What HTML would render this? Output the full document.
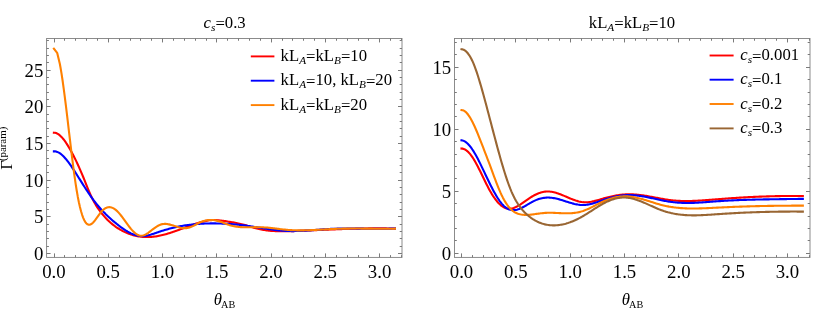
<!DOCTYPE html>
<html><head><meta charset="utf-8"><title>plot</title>
<style>
html,body{margin:0;padding:0;background:#fff;}
svg{display:block;font-family:"Liberation Serif",serif;will-change:transform;}
text{fill:#000;}
.tk{font-size:18px;}
.lb{font-size:16px;}
.i{font-style:italic;}
.sub{font-size:10.8px;}
.sup{font-size:10.4px;}
.xsub{font-size:9.8px;}
.c{fill:none;stroke-width:2.1;stroke-linecap:square;stroke-linejoin:round;}
</style></head><body>
<svg width="830" height="323" viewBox="0 0 830 323">
<rect width="830" height="323" fill="#fff"/>

<clipPath id="cpL"><rect x="46.60" y="38.45" width="355.40" height="218.95"/></clipPath>
<g clip-path="url(#cpL)">
<path class="c" stroke="#ff0000" d="M53.90 132.69L54.99 132.79L56.07 133.08L57.16 133.54L58.24 134.17L59.33 134.95L60.41 135.89L61.50 136.96L62.58 138.16L63.67 139.48L64.75 140.92L65.84 142.47L66.93 144.11L68.01 145.84L69.10 147.65L70.18 149.53L71.27 151.48L72.35 153.48L73.44 155.56L74.52 157.69L75.61 159.89L76.70 162.15L77.78 164.47L78.87 166.85L79.95 169.30L81.04 171.81L82.12 174.38L83.21 177.01L84.29 179.70L85.38 182.41L86.47 185.13L87.55 187.82L88.64 190.45L89.72 192.99L90.81 195.41L91.89 197.70L92.98 199.86L94.06 201.89L95.15 203.81L96.23 205.62L97.32 207.33L98.41 208.94L99.49 210.48L100.58 211.93L101.66 213.31L102.75 214.64L103.83 215.90L104.92 217.12L106.00 218.29L107.09 219.41L108.17 220.48L109.26 221.51L110.35 222.49L111.43 223.43L112.52 224.33L113.60 225.19L114.69 226.01L115.77 226.80L116.86 227.54L117.94 228.26L119.03 228.93L120.12 229.58L121.20 230.20L122.29 230.79L123.37 231.35L124.46 231.88L125.54 232.38L126.63 232.86L127.71 233.31L128.80 233.73L129.88 234.12L130.97 234.49L132.06 234.83L133.14 235.15L134.23 235.44L135.31 235.71L136.40 235.95L137.48 236.16L138.57 236.36L139.65 236.52L140.74 236.67L141.83 236.79L142.91 236.89L144.00 236.96L145.08 237.02L146.17 237.05L147.25 237.05L148.34 237.04L149.42 237.01L150.51 236.95L151.59 236.87L152.68 236.78L153.77 236.66L154.85 236.52L155.94 236.37L157.02 236.19L158.11 236.00L159.19 235.79L160.28 235.56L161.36 235.32L162.45 235.06L163.54 234.79L164.62 234.51L165.71 234.21L166.79 233.90L167.88 233.58L168.96 233.25L170.05 232.91L171.13 232.56L172.22 232.20L173.31 231.84L174.39 231.46L175.48 231.08L176.56 230.70L177.65 230.31L178.73 229.91L179.82 229.51L180.90 229.11L181.99 228.71L183.07 228.31L184.16 227.90L185.25 227.50L186.33 227.09L187.42 226.69L188.50 226.29L189.59 225.89L190.67 225.50L191.76 225.11L192.84 224.73L193.93 224.35L195.02 223.98L196.10 223.62L197.19 223.26L198.27 222.91L199.36 222.58L200.44 222.25L201.53 221.94L202.61 221.64L203.70 221.37L204.78 221.11L205.87 220.88L206.96 220.67L208.04 220.48L209.13 220.33L210.21 220.21L211.30 220.12L212.38 220.06L213.47 220.03L214.55 220.04L215.64 220.07L216.72 220.13L217.81 220.20L218.90 220.30L219.98 220.42L221.07 220.55L222.15 220.69L223.24 220.84L224.32 221.00L225.41 221.16L226.49 221.33L227.58 221.50L228.67 221.67L229.75 221.85L230.84 222.03L231.92 222.21L233.01 222.40L234.09 222.59L235.18 222.79L236.26 223.00L237.35 223.22L238.44 223.45L239.52 223.68L240.61 223.93L241.69 224.19L242.78 224.46L243.86 224.75L244.95 225.05L246.03 225.36L247.12 225.68L248.20 226.00L249.29 226.34L250.38 226.67L251.46 227.00L252.55 227.32L253.63 227.64L254.72 227.95L255.80 228.24L256.89 228.52L257.97 228.79L259.06 229.03L260.14 229.27L261.23 229.48L262.32 229.68L263.40 229.87L264.49 230.05L265.57 230.21L266.66 230.36L267.74 230.49L268.83 230.62L269.91 230.73L271.00 230.83L272.09 230.92L273.17 231.00L274.26 231.07L275.34 231.13L276.43 231.18L277.51 231.22L278.60 231.25L279.68 231.28L280.77 231.30L281.86 231.31L282.94 231.31L284.03 231.31L285.11 231.30L286.20 231.29L287.28 231.27L288.37 231.25L289.45 231.22L290.54 231.19L291.62 231.16L292.71 231.12L293.80 231.09L294.88 231.04L295.97 231.00L297.05 230.96L298.14 230.91L299.22 230.87L300.31 230.82L301.39 230.78L302.48 230.73L303.56 230.68L304.65 230.64L305.74 230.59L306.82 230.54L307.91 230.49L308.99 230.45L310.08 230.40L311.16 230.35L312.25 230.30L313.33 230.26L314.42 230.21L315.51 230.16L316.59 230.11L317.68 230.06L318.76 230.02L319.85 229.97L320.93 229.92L322.02 229.88L323.10 229.83L324.19 229.78L325.27 229.74L326.36 229.69L327.45 229.64L328.53 229.60L329.62 229.55L330.70 229.51L331.79 229.46L332.87 229.42L333.96 229.38L335.04 229.33L336.13 229.29L337.22 229.25L338.30 229.21L339.39 229.17L340.47 229.13L341.56 229.09L342.64 229.05L343.73 229.01L344.81 228.98L345.90 228.94L346.99 228.91L348.07 228.87L349.16 228.84L350.24 228.81L351.33 228.77L352.41 228.74L353.50 228.71L354.58 228.68L355.67 228.66L356.75 228.63L357.84 228.60L358.93 228.58L360.01 228.56L361.10 228.54L362.18 228.51L363.27 228.50L364.35 228.48L365.44 228.46L366.52 228.44L367.61 228.43L368.69 228.42L369.78 228.41L370.87 228.40L371.95 228.39L373.04 228.38L374.12 228.37L375.21 228.37L376.29 228.37L377.38 228.37L378.46 228.37L379.55 228.37L380.64 228.37L381.72 228.38L382.81 228.39L383.89 228.40L384.98 228.41L386.06 228.42L387.15 228.44L388.23 228.45L389.32 228.47L390.40 228.49L391.49 228.51L392.58 228.54L393.66 228.56L394.75 228.59L394.92 228.60"/>
<path class="c" stroke="#0000ff" d="M53.90 151.40L54.99 151.41L56.07 151.58L57.16 151.89L58.24 152.36L59.33 152.95L60.41 153.68L61.50 154.53L62.58 155.48L63.67 156.54L64.75 157.70L65.84 158.95L66.93 160.27L68.01 161.67L69.10 163.13L70.18 164.65L71.27 166.22L72.35 167.83L73.44 169.46L74.52 171.13L75.61 172.81L76.70 174.51L77.78 176.22L78.87 177.94L79.95 179.66L81.04 181.39L82.12 183.11L83.21 184.82L84.29 186.53L85.38 188.22L86.47 189.89L87.55 191.54L88.64 193.17L89.72 194.77L90.81 196.34L91.89 197.87L92.98 199.36L94.06 200.81L95.15 202.23L96.23 203.60L97.32 204.94L98.41 206.24L99.49 207.51L100.58 208.74L101.66 209.94L102.75 211.11L103.83 212.25L104.92 213.36L106.00 214.45L107.09 215.50L108.17 216.54L109.26 217.54L110.35 218.53L111.43 219.49L112.52 220.44L113.60 221.36L114.69 222.27L115.77 223.16L116.86 224.03L117.94 224.89L119.03 225.73L120.12 226.55L121.20 227.36L122.29 228.14L123.37 228.89L124.46 229.62L125.54 230.32L126.63 230.99L127.71 231.63L128.80 232.24L129.88 232.81L130.97 233.34L132.06 233.83L133.14 234.28L134.23 234.68L135.31 235.04L136.40 235.35L137.48 235.61L138.57 235.82L139.65 235.97L140.74 236.07L141.83 236.11L142.91 236.10L144.00 236.02L145.08 235.90L146.17 235.73L147.25 235.52L148.34 235.27L149.42 234.99L150.51 234.69L151.59 234.36L152.68 234.01L153.77 233.65L154.85 233.28L155.94 232.90L157.02 232.52L158.11 232.15L159.19 231.79L160.28 231.43L161.36 231.08L162.45 230.74L163.54 230.40L164.62 230.08L165.71 229.76L166.79 229.44L167.88 229.14L168.96 228.84L170.05 228.55L171.13 228.27L172.22 228.00L173.31 227.74L174.39 227.49L175.48 227.24L176.56 227.00L177.65 226.77L178.73 226.56L179.82 226.34L180.90 226.14L181.99 225.95L183.07 225.76L184.16 225.58L185.25 225.41L186.33 225.25L187.42 225.09L188.50 224.94L189.59 224.80L190.67 224.67L191.76 224.54L192.84 224.43L193.93 224.31L195.02 224.21L196.10 224.11L197.19 224.02L198.27 223.94L199.36 223.86L200.44 223.79L201.53 223.72L202.61 223.67L203.70 223.61L204.78 223.57L205.87 223.53L206.96 223.49L208.04 223.46L209.13 223.44L210.21 223.42L211.30 223.41L212.38 223.41L213.47 223.40L214.55 223.41L215.64 223.42L216.72 223.43L217.81 223.45L218.90 223.47L219.98 223.50L221.07 223.54L222.15 223.58L223.24 223.62L224.32 223.67L225.41 223.72L226.49 223.78L227.58 223.85L228.67 223.92L229.75 223.99L230.84 224.07L231.92 224.15L233.01 224.24L234.09 224.33L235.18 224.43L236.26 224.53L237.35 224.64L238.44 224.75L239.52 224.86L240.61 224.98L241.69 225.11L242.78 225.24L243.86 225.37L244.95 225.51L246.03 225.66L247.12 225.81L248.20 225.96L249.29 226.11L250.38 226.27L251.46 226.44L252.55 226.60L253.63 226.77L254.72 226.94L255.80 227.11L256.89 227.28L257.97 227.45L259.06 227.62L260.14 227.80L261.23 227.97L262.32 228.14L263.40 228.31L264.49 228.48L265.57 228.65L266.66 228.81L267.74 228.97L268.83 229.13L269.91 229.29L271.00 229.44L272.09 229.58L273.17 229.73L274.26 229.86L275.34 229.99L276.43 230.12L277.51 230.24L278.60 230.35L279.68 230.46L280.77 230.56L281.86 230.65L282.94 230.73L284.03 230.81L285.11 230.87L286.20 230.93L287.28 230.98L288.37 231.01L289.45 231.04L290.54 231.06L291.62 231.08L292.71 231.08L293.80 231.08L294.88 231.07L295.97 231.05L297.05 231.03L298.14 231.00L299.22 230.96L300.31 230.92L301.39 230.88L302.48 230.83L303.56 230.77L304.65 230.71L305.74 230.65L306.82 230.58L307.91 230.51L308.99 230.44L310.08 230.37L311.16 230.29L312.25 230.21L313.33 230.13L314.42 230.05L315.51 229.97L316.59 229.88L317.68 229.80L318.76 229.72L319.85 229.64L320.93 229.56L322.02 229.48L323.10 229.40L324.19 229.32L325.27 229.25L326.36 229.18L327.45 229.11L328.53 229.04L329.62 228.98L330.70 228.92L331.79 228.87L332.87 228.82L333.96 228.77L335.04 228.73L336.13 228.70L337.22 228.67L338.30 228.64L339.39 228.61L340.47 228.59L341.56 228.57L342.64 228.56L343.73 228.55L344.81 228.54L345.90 228.53L346.99 228.53L348.07 228.53L349.16 228.53L350.24 228.53L351.33 228.54L352.41 228.54L353.50 228.55L354.58 228.56L355.67 228.57L356.75 228.59L357.84 228.60L358.93 228.61L360.01 228.63L361.10 228.64L362.18 228.66L363.27 228.67L364.35 228.69L365.44 228.71L366.52 228.72L367.61 228.73L368.69 228.75L369.78 228.76L370.87 228.77L371.95 228.78L373.04 228.79L374.12 228.80L375.21 228.81L376.29 228.81L377.38 228.82L378.46 228.82L379.55 228.81L380.64 228.81L381.72 228.80L382.81 228.79L383.89 228.78L384.98 228.77L386.06 228.75L387.15 228.72L388.23 228.70L389.32 228.67L390.40 228.64L391.49 228.60L392.58 228.56L393.66 228.51L394.75 228.46L394.92 228.45"/>
<path class="c" stroke="#ff8000" d="M53.90 48.74L57.16 52.85L59.87 64.01L60.41 66.94L61.50 73.38L62.58 80.53L63.67 88.29L64.75 96.54L65.84 105.20L66.93 114.16L68.01 123.30L69.10 132.53L70.18 141.73L71.27 150.80L72.35 159.64L73.44 168.14L74.52 176.19L75.61 183.69L76.70 190.54L77.78 196.69L78.87 202.18L79.95 207.02L81.04 211.22L82.12 214.82L83.21 217.82L84.29 220.26L85.38 222.14L86.47 223.50L87.55 224.35L88.64 224.74L89.72 224.71L90.81 224.33L91.89 223.63L92.98 222.66L94.06 221.48L95.15 220.14L96.23 218.67L97.32 217.15L98.41 215.60L99.49 214.08L100.58 212.65L101.66 211.34L102.75 210.21L103.83 209.27L104.92 208.50L106.00 207.91L107.09 207.50L108.17 207.25L109.26 207.17L110.35 207.25L111.43 207.48L112.52 207.87L113.60 208.40L114.69 209.08L115.77 209.89L116.86 210.84L117.94 211.91L119.03 213.10L120.12 214.38L121.20 215.74L122.29 217.16L123.37 218.62L124.46 220.12L125.54 221.63L126.63 223.15L127.71 224.64L128.80 226.10L129.88 227.51L130.97 228.85L132.06 230.11L133.14 231.28L134.23 232.33L135.31 233.25L136.40 234.05L137.48 234.70L138.57 235.20L139.65 235.55L140.74 235.73L141.83 235.74L142.91 235.57L144.00 235.24L145.08 234.77L146.17 234.19L147.25 233.51L148.34 232.76L149.42 231.96L150.51 231.13L151.59 230.29L152.68 229.46L153.77 228.63L154.85 227.84L155.94 227.09L157.02 226.39L158.11 225.75L159.19 225.19L160.28 224.73L161.36 224.36L162.45 224.10L163.54 223.95L164.62 223.89L165.71 223.91L166.79 224.00L167.88 224.16L168.96 224.37L170.05 224.62L171.13 224.91L172.22 225.23L173.31 225.57L174.39 225.91L175.48 226.27L176.56 226.61L177.65 226.95L178.73 227.25L179.82 227.53L180.90 227.77L181.99 227.96L183.07 228.09L184.16 228.16L185.25 228.16L186.33 228.09L187.42 227.95L188.50 227.73L189.59 227.44L190.67 227.08L191.76 226.63L192.84 226.13L193.93 225.57L195.02 224.98L196.10 224.39L197.19 223.80L198.27 223.24L199.36 222.72L200.44 222.24L201.53 221.81L202.61 221.42L203.70 221.07L204.78 220.77L205.87 220.52L206.96 220.31L208.04 220.15L209.13 220.03L210.21 219.97L211.30 219.95L212.38 219.99L213.47 220.07L214.55 220.21L215.64 220.39L216.72 220.63L217.81 220.92L218.90 221.24L219.98 221.60L221.07 221.99L222.15 222.39L223.24 222.80L224.32 223.22L225.41 223.64L226.49 224.05L227.58 224.44L228.67 224.81L229.75 225.15L230.84 225.47L231.92 225.75L233.01 226.01L234.09 226.24L235.18 226.45L236.26 226.63L237.35 226.78L238.44 226.91L239.52 227.02L240.61 227.11L241.69 227.17L242.78 227.22L243.86 227.24L244.95 227.26L246.03 227.26L247.12 227.26L248.20 227.25L249.29 227.23L250.38 227.22L251.46 227.20L252.55 227.19L253.63 227.18L254.72 227.17L255.80 227.17L256.89 227.18L257.97 227.20L259.06 227.22L260.14 227.24L261.23 227.28L262.32 227.32L263.40 227.37L264.49 227.43L265.57 227.50L266.66 227.57L267.74 227.66L268.83 227.76L269.91 227.86L271.00 227.98L272.09 228.10L273.17 228.22L274.26 228.35L275.34 228.49L276.43 228.63L277.51 228.76L278.60 228.90L279.68 229.04L280.77 229.17L281.86 229.30L282.94 229.43L284.03 229.55L285.11 229.66L286.20 229.76L287.28 229.86L288.37 229.94L289.45 230.02L290.54 230.09L291.62 230.14L292.71 230.20L293.80 230.24L294.88 230.28L295.97 230.31L297.05 230.33L298.14 230.34L299.22 230.35L300.31 230.36L301.39 230.35L302.48 230.34L303.56 230.33L304.65 230.31L305.74 230.29L306.82 230.26L307.91 230.23L308.99 230.20L310.08 230.16L311.16 230.11L312.25 230.07L313.33 230.02L314.42 229.97L315.51 229.92L316.59 229.86L317.68 229.81L318.76 229.75L319.85 229.69L320.93 229.63L322.02 229.57L323.10 229.51L324.19 229.45L325.27 229.39L326.36 229.33L327.45 229.27L328.53 229.21L329.62 229.16L330.70 229.10L331.79 229.05L332.87 229.00L333.96 228.95L335.04 228.90L336.13 228.86L337.22 228.82L338.30 228.79L339.39 228.75L340.47 228.72L341.56 228.69L342.64 228.67L343.73 228.65L344.81 228.63L345.90 228.61L346.99 228.60L348.07 228.59L349.16 228.58L350.24 228.57L351.33 228.56L352.41 228.56L353.50 228.56L354.58 228.55L355.67 228.56L356.75 228.56L357.84 228.56L358.93 228.57L360.01 228.57L361.10 228.58L362.18 228.58L363.27 228.59L364.35 228.60L365.44 228.61L366.52 228.62L367.61 228.63L368.69 228.64L369.78 228.65L370.87 228.66L371.95 228.67L373.04 228.68L374.12 228.69L375.21 228.70L376.29 228.71L377.38 228.72L378.46 228.72L379.55 228.73L380.64 228.74L381.72 228.74L382.81 228.74L383.89 228.75L384.98 228.75L386.06 228.75L387.15 228.74L388.23 228.74L389.32 228.73L390.40 228.73L391.49 228.72L392.58 228.70L393.66 228.69L394.75 228.67L394.92 228.67"/>
</g>
<rect x="46.60" y="38.45" width="355.40" height="218.95" fill="none" stroke="#7f7f7f" stroke-width="0.9"/>
<path d="M54.50 257.40v-4.00M54.50 38.45v4.00M64.50 257.40v-2.30M64.50 38.45v2.30M75.50 257.40v-2.30M75.50 38.45v2.30M86.50 257.40v-2.30M86.50 38.45v2.30M97.50 257.40v-2.30M97.50 38.45v2.30M108.50 257.40v-4.00M108.50 38.45v4.00M119.50 257.40v-2.30M119.50 38.45v2.30M130.50 257.40v-2.30M130.50 38.45v2.30M140.50 257.40v-2.30M140.50 38.45v2.30M151.50 257.40v-2.30M151.50 38.45v2.30M162.50 257.40v-4.00M162.50 38.45v4.00M173.50 257.40v-2.30M173.50 38.45v2.30M184.50 257.40v-2.30M184.50 38.45v2.30M195.50 257.40v-2.30M195.50 38.45v2.30M206.50 257.40v-2.30M206.50 38.45v2.30M216.50 257.40v-4.00M216.50 38.45v4.00M227.50 257.40v-2.30M227.50 38.45v2.30M238.50 257.40v-2.30M238.50 38.45v2.30M249.50 257.40v-2.30M249.50 38.45v2.30M260.50 257.40v-2.30M260.50 38.45v2.30M271.50 257.40v-4.00M271.50 38.45v4.00M282.50 257.40v-2.30M282.50 38.45v2.30M292.50 257.40v-2.30M292.50 38.45v2.30M303.50 257.40v-2.30M303.50 38.45v2.30M314.50 257.40v-2.30M314.50 38.45v2.30M325.50 257.40v-4.00M325.50 38.45v4.00M336.50 257.40v-2.30M336.50 38.45v2.30M347.50 257.40v-2.30M347.50 38.45v2.30M358.50 257.40v-2.30M358.50 38.45v2.30M368.50 257.40v-2.30M368.50 38.45v2.30M379.50 257.40v-4.00M379.50 38.45v4.00M390.50 257.40v-2.30M390.50 38.45v2.30M401.50 257.40v-2.30M401.50 38.45v2.30M46.60 253.50h4.00M402.00 253.50h-4.00M46.60 246.50h2.30M402.00 246.50h-2.30M46.60 238.50h2.30M402.00 238.50h-2.30M46.60 231.50h2.30M402.00 231.50h-2.30M46.60 224.50h2.30M402.00 224.50h-2.30M46.60 216.50h4.00M402.00 216.50h-4.00M46.60 209.50h2.30M402.00 209.50h-2.30M46.60 202.50h2.30M402.00 202.50h-2.30M46.60 194.50h2.30M402.00 194.50h-2.30M46.60 187.50h2.30M402.00 187.50h-2.30M46.60 180.50h4.00M402.00 180.50h-4.00M46.60 172.50h2.30M402.00 172.50h-2.30M46.60 165.50h2.30M402.00 165.50h-2.30M46.60 158.50h2.30M402.00 158.50h-2.30M46.60 150.50h2.30M402.00 150.50h-2.30M46.60 143.50h4.00M402.00 143.50h-4.00M46.60 136.50h2.30M402.00 136.50h-2.30M46.60 128.50h2.30M402.00 128.50h-2.30M46.60 121.50h2.30M402.00 121.50h-2.30M46.60 114.50h2.30M402.00 114.50h-2.30M46.60 106.50h4.00M402.00 106.50h-4.00M46.60 99.50h2.30M402.00 99.50h-2.30M46.60 92.50h2.30M402.00 92.50h-2.30M46.60 84.50h2.30M402.00 84.50h-2.30M46.60 77.50h2.30M402.00 77.50h-2.30M46.60 70.50h4.00M402.00 70.50h-4.00M46.60 62.50h2.30M402.00 62.50h-2.30M46.60 55.50h2.30M402.00 55.50h-2.30M46.60 48.50h2.30M402.00 48.50h-2.30M46.60 40.50h2.30M402.00 40.50h-2.30" fill="none" stroke="#7a7a7a" stroke-width="1.0"/>
<text class="tk" text-anchor="middle" transform="translate(53.90 278.00)  scale(1.044 1)"><tspan>0.0</tspan></text>
<text class="tk" text-anchor="middle" transform="translate(108.17 278.00)  scale(1.044 1)"><tspan>0.5</tspan></text>
<text class="tk" text-anchor="middle" transform="translate(162.45 278.00)  scale(1.044 1)"><tspan>1.0</tspan></text>
<text class="tk" text-anchor="middle" transform="translate(216.72 278.00)  scale(1.044 1)"><tspan>1.5</tspan></text>
<text class="tk" text-anchor="middle" transform="translate(271.00 278.00)  scale(1.044 1)"><tspan>2.0</tspan></text>
<text class="tk" text-anchor="middle" transform="translate(325.27 278.00)  scale(1.044 1)"><tspan>2.5</tspan></text>
<text class="tk" text-anchor="middle" transform="translate(379.55 278.00)  scale(1.044 1)"><tspan>3.0</tspan></text>
<text class="tk" text-anchor="end" transform="translate(43.30 260.10)  scale(1.044 1)"><tspan>0</tspan></text>
<text class="tk" text-anchor="end" transform="translate(43.30 223.41)  scale(1.044 1)"><tspan>5</tspan></text>
<text class="tk" text-anchor="end" transform="translate(43.30 186.72)  scale(1.044 1)"><tspan>10</tspan></text>
<text class="tk" text-anchor="end" transform="translate(43.30 150.03)  scale(1.044 1)"><tspan>15</tspan></text>
<text class="tk" text-anchor="end" transform="translate(43.30 113.34)  scale(1.044 1)"><tspan>20</tspan></text>
<text class="tk" text-anchor="end" transform="translate(43.30 76.65)  scale(1.044 1)"><tspan>25</tspan></text>
<text class="lb" text-anchor="start" transform="translate(213.80 304.50)  scale(1.044 1)"><tspan class="i">θ</tspan><tspan class="xsub" dy="3.30"><tspan dx="-0.9">AB</tspan></tspan></text>
<clipPath id="cpR"><rect x="454.50" y="38.45" width="355.50" height="218.95"/></clipPath>
<g clip-path="url(#cpR)">
<path class="c" stroke="#ff0000" d="M461.50 148.50L462.59 148.62L463.67 148.92L464.76 149.39L465.85 150.03L466.93 150.84L468.02 151.80L469.11 152.92L470.19 154.18L471.28 155.58L472.37 157.12L473.45 158.79L474.54 160.58L475.62 162.47L476.71 164.46L477.80 166.53L478.88 168.66L479.97 170.84L481.06 173.06L482.14 175.30L483.23 177.55L484.32 179.79L485.40 182.01L486.49 184.20L487.58 186.33L488.66 188.40L489.75 190.40L490.84 192.30L491.92 194.12L493.01 195.85L494.10 197.47L495.18 199.00L496.27 200.43L497.35 201.76L498.44 202.98L499.53 204.08L500.61 205.08L501.70 205.96L502.79 206.72L503.87 207.37L504.96 207.89L506.05 208.28L507.13 208.55L508.22 208.70L509.31 208.73L510.39 208.66L511.48 208.50L512.57 208.24L513.65 207.91L514.74 207.50L515.83 207.02L516.91 206.49L518.00 205.90L519.08 205.27L520.17 204.60L521.26 203.89L522.34 203.16L523.43 202.41L524.52 201.65L525.60 200.88L526.69 200.11L527.78 199.35L528.86 198.60L529.95 197.87L531.04 197.16L532.12 196.49L533.21 195.85L534.30 195.26L535.38 194.70L536.47 194.18L537.56 193.70L538.64 193.27L539.73 192.88L540.81 192.54L541.90 192.24L542.99 191.99L544.07 191.79L545.16 191.64L546.25 191.54L547.33 191.49L548.42 191.50L549.51 191.56L550.59 191.67L551.68 191.82L552.77 192.02L553.85 192.25L554.94 192.52L556.03 192.83L557.11 193.16L558.20 193.53L559.28 193.91L560.37 194.32L561.46 194.75L562.54 195.19L563.63 195.64L564.72 196.10L565.80 196.56L566.89 197.03L567.98 197.50L569.06 197.96L570.15 198.41L571.24 198.86L572.32 199.29L573.41 199.70L574.50 200.10L575.58 200.47L576.67 200.81L577.76 201.13L578.84 201.42L579.93 201.67L581.01 201.88L582.10 202.05L583.19 202.17L584.27 202.25L585.36 202.28L586.45 202.27L587.53 202.21L588.62 202.11L589.71 201.97L590.79 201.81L591.88 201.61L592.97 201.38L594.05 201.14L595.14 200.87L596.23 200.59L597.31 200.29L598.40 199.98L599.49 199.66L600.57 199.34L601.66 199.02L602.75 198.70L603.83 198.38L604.92 198.07L606.00 197.78L607.09 197.49L608.18 197.20L609.26 196.93L610.35 196.67L611.44 196.42L612.52 196.19L613.61 195.96L614.70 195.75L615.78 195.54L616.87 195.36L617.96 195.18L619.04 195.02L620.13 194.87L621.22 194.74L622.30 194.62L623.39 194.52L624.48 194.44L625.56 194.37L626.65 194.32L627.73 194.29L628.82 194.27L629.91 194.27L630.99 194.29L632.08 194.33L633.17 194.38L634.25 194.44L635.34 194.52L636.43 194.61L637.51 194.72L638.60 194.83L639.69 194.96L640.77 195.10L641.86 195.24L642.95 195.40L644.03 195.56L645.12 195.73L646.21 195.91L647.29 196.09L648.38 196.28L649.46 196.48L650.55 196.67L651.64 196.87L652.72 197.08L653.81 197.28L654.90 197.49L655.98 197.69L657.07 197.90L658.16 198.10L659.24 198.30L660.33 198.50L661.42 198.70L662.50 198.89L663.59 199.08L664.68 199.26L665.76 199.43L666.85 199.60L667.94 199.76L669.02 199.92L670.11 200.06L671.19 200.19L672.28 200.32L673.37 200.43L674.45 200.53L675.54 200.62L676.63 200.70L677.71 200.77L678.80 200.84L679.89 200.89L680.97 200.94L682.06 200.97L683.15 201.00L684.23 201.02L685.32 201.03L686.41 201.03L687.49 201.03L688.58 201.02L689.66 201.01L690.75 200.98L691.84 200.95L692.92 200.92L694.01 200.88L695.10 200.84L696.18 200.79L697.27 200.73L698.36 200.67L699.44 200.61L700.53 200.54L701.62 200.47L702.70 200.40L703.79 200.32L704.88 200.24L705.96 200.16L707.05 200.08L708.14 199.99L709.22 199.91L710.31 199.82L711.39 199.73L712.48 199.64L713.57 199.55L714.65 199.46L715.74 199.37L716.83 199.28L717.91 199.19L719.00 199.11L720.09 199.02L721.17 198.93L722.26 198.85L723.35 198.77L724.43 198.68L725.52 198.60L726.61 198.52L727.69 198.44L728.78 198.37L729.87 198.29L730.95 198.22L732.04 198.14L733.12 198.07L734.21 198.00L735.30 197.93L736.38 197.86L737.47 197.79L738.56 197.72L739.64 197.65L740.73 197.59L741.82 197.53L742.90 197.46L743.99 197.40L745.08 197.34L746.16 197.28L747.25 197.23L748.34 197.17L749.42 197.12L750.51 197.06L751.60 197.01L752.68 196.96L753.77 196.91L754.86 196.86L755.94 196.81L757.03 196.76L758.11 196.72L759.20 196.67L760.29 196.63L761.37 196.59L762.46 196.55L763.55 196.51L764.63 196.47L765.72 196.44L766.81 196.40L767.89 196.37L768.98 196.34L770.07 196.30L771.15 196.27L772.24 196.25L773.33 196.22L774.41 196.19L775.50 196.17L776.59 196.14L777.67 196.12L778.76 196.10L779.84 196.08L780.93 196.06L782.02 196.05L783.10 196.03L784.19 196.02L785.28 196.00L786.36 195.99L787.45 195.98L788.54 195.97L789.62 195.97L790.71 195.96L791.80 195.96L792.88 195.95L793.97 195.95L795.06 195.95L796.14 195.95L797.23 195.95L798.32 195.96L799.40 195.96L800.49 195.97L801.57 195.98L802.66 195.99L802.83 195.99"/>
<path class="c" stroke="#0000ff" d="M461.50 140.32L462.59 140.50L463.67 140.87L464.76 141.41L465.85 142.12L466.93 142.99L468.02 144.01L469.11 145.18L470.19 146.49L471.28 147.93L472.37 149.49L473.45 151.17L474.54 152.95L475.62 154.84L476.71 156.80L477.80 158.85L478.88 160.96L479.97 163.13L481.06 165.34L482.14 167.59L483.23 169.86L484.32 172.15L485.40 174.45L486.49 176.74L487.58 179.02L488.66 181.27L489.75 183.49L490.84 185.68L491.92 187.81L493.01 189.89L494.10 191.90L495.18 193.85L496.27 195.72L497.35 197.50L498.44 199.19L499.53 200.77L500.61 202.25L501.70 203.61L502.79 204.85L503.87 205.95L504.96 206.92L506.05 207.75L507.13 208.45L508.22 209.02L509.31 209.47L510.39 209.80L511.48 210.02L512.57 210.14L513.65 210.16L514.74 210.08L515.83 209.92L516.91 209.68L518.00 209.36L519.08 208.98L520.17 208.54L521.26 208.05L522.34 207.52L523.43 206.95L524.52 206.35L525.60 205.73L526.69 205.09L527.78 204.45L528.86 203.81L529.95 203.17L531.04 202.55L532.12 201.95L533.21 201.38L534.30 200.84L535.38 200.35L536.47 199.89L537.56 199.48L538.64 199.10L539.73 198.77L540.81 198.47L541.90 198.22L542.99 198.01L544.07 197.84L545.16 197.71L546.25 197.62L547.33 197.57L548.42 197.56L549.51 197.60L550.59 197.68L551.68 197.79L552.77 197.94L553.85 198.11L554.94 198.32L556.03 198.55L557.11 198.81L558.20 199.09L559.28 199.38L560.37 199.69L561.46 200.02L562.54 200.35L563.63 200.69L564.72 201.03L565.80 201.38L566.89 201.73L567.98 202.07L569.06 202.41L570.15 202.74L571.24 203.05L572.32 203.36L573.41 203.64L574.50 203.91L575.58 204.15L576.67 204.37L577.76 204.57L578.84 204.73L579.93 204.86L581.01 204.95L582.10 205.01L583.19 205.02L584.27 204.99L585.36 204.92L586.45 204.81L587.53 204.65L588.62 204.47L589.71 204.24L590.79 203.99L591.88 203.72L592.97 203.42L594.05 203.10L595.14 202.76L596.23 202.41L597.31 202.05L598.40 201.68L599.49 201.30L600.57 200.92L601.66 200.55L602.75 200.17L603.83 199.81L604.92 199.45L606.00 199.11L607.09 198.77L608.18 198.45L609.26 198.14L610.35 197.84L611.44 197.55L612.52 197.28L613.61 197.02L614.70 196.77L615.78 196.54L616.87 196.32L617.96 196.12L619.04 195.94L620.13 195.77L621.22 195.62L622.30 195.49L623.39 195.38L624.48 195.28L625.56 195.21L626.65 195.15L627.73 195.11L628.82 195.10L629.91 195.10L630.99 195.12L632.08 195.16L633.17 195.22L634.25 195.30L635.34 195.39L636.43 195.49L637.51 195.61L638.60 195.75L639.69 195.89L640.77 196.05L641.86 196.22L642.95 196.40L644.03 196.59L645.12 196.78L646.21 196.99L647.29 197.20L648.38 197.42L649.46 197.64L650.55 197.87L651.64 198.10L652.72 198.33L653.81 198.57L654.90 198.80L655.98 199.04L657.07 199.27L658.16 199.51L659.24 199.74L660.33 199.97L661.42 200.20L662.50 200.42L663.59 200.64L664.68 200.85L665.76 201.05L666.85 201.24L667.94 201.43L669.02 201.61L670.11 201.77L671.19 201.93L672.28 202.07L673.37 202.21L674.45 202.33L675.54 202.43L676.63 202.53L677.71 202.62L678.80 202.69L679.89 202.76L680.97 202.81L682.06 202.86L683.15 202.90L684.23 202.92L685.32 202.94L686.41 202.95L687.49 202.96L688.58 202.95L689.66 202.94L690.75 202.92L691.84 202.90L692.92 202.87L694.01 202.83L695.10 202.79L696.18 202.74L697.27 202.69L698.36 202.63L699.44 202.57L700.53 202.51L701.62 202.44L702.70 202.37L703.79 202.30L704.88 202.22L705.96 202.14L707.05 202.06L708.14 201.98L709.22 201.90L710.31 201.82L711.39 201.73L712.48 201.65L713.57 201.57L714.65 201.48L715.74 201.40L716.83 201.32L717.91 201.24L719.00 201.17L720.09 201.09L721.17 201.02L722.26 200.95L723.35 200.88L724.43 200.82L725.52 200.75L726.61 200.69L727.69 200.63L728.78 200.57L729.87 200.51L730.95 200.46L732.04 200.40L733.12 200.35L734.21 200.30L735.30 200.25L736.38 200.20L737.47 200.16L738.56 200.11L739.64 200.07L740.73 200.03L741.82 199.99L742.90 199.95L743.99 199.91L745.08 199.88L746.16 199.84L747.25 199.81L748.34 199.77L749.42 199.74L750.51 199.71L751.60 199.68L752.68 199.65L753.77 199.63L754.86 199.60L755.94 199.57L757.03 199.55L758.11 199.53L759.20 199.50L760.29 199.48L761.37 199.46L762.46 199.44L763.55 199.42L764.63 199.40L765.72 199.38L766.81 199.36L767.89 199.34L768.98 199.33L770.07 199.31L771.15 199.29L772.24 199.28L773.33 199.26L774.41 199.24L775.50 199.23L776.59 199.21L777.67 199.20L778.76 199.19L779.84 199.17L780.93 199.16L782.02 199.14L783.10 199.13L784.19 199.11L785.28 199.10L786.36 199.09L787.45 199.07L788.54 199.06L789.62 199.04L790.71 199.03L791.80 199.01L792.88 199.00L793.97 198.98L795.06 198.97L796.14 198.95L797.23 198.93L798.32 198.92L799.40 198.90L800.49 198.88L801.57 198.86L802.66 198.84L802.83 198.84"/>
<path class="c" stroke="#ff8000" d="M461.50 110.06L462.59 110.17L463.67 110.55L464.76 111.20L465.85 112.09L466.93 113.21L468.02 114.54L469.11 116.08L470.19 117.80L471.28 119.70L472.37 121.75L473.45 123.95L474.54 126.27L475.62 128.71L476.71 131.25L477.80 133.87L478.88 136.56L479.97 139.30L481.06 142.09L482.14 144.90L483.23 147.72L484.32 150.54L485.40 153.36L486.49 156.18L487.58 159.01L488.66 161.85L489.75 164.72L490.84 167.62L491.92 170.55L493.01 173.53L494.10 176.52L495.18 179.48L496.27 182.39L497.35 185.19L498.44 187.88L499.53 190.45L500.61 192.89L501.70 195.21L502.79 197.40L503.87 199.45L504.96 201.36L506.05 203.13L507.13 204.75L508.22 206.23L509.31 207.56L510.39 208.74L511.48 209.79L512.57 210.72L513.65 211.53L514.74 212.23L515.83 212.82L516.91 213.32L518.00 213.74L519.08 214.07L520.17 214.34L521.26 214.54L522.34 214.68L523.43 214.78L524.52 214.83L525.60 214.86L526.69 214.85L527.78 214.81L528.86 214.76L529.95 214.68L531.04 214.58L532.12 214.46L533.21 214.34L534.30 214.20L535.38 214.06L536.47 213.91L537.56 213.76L538.64 213.61L539.73 213.47L540.81 213.33L541.90 213.20L542.99 213.09L544.07 212.99L545.16 212.91L546.25 212.85L547.33 212.81L548.42 212.78L549.51 212.77L550.59 212.78L551.68 212.79L552.77 212.82L553.85 212.85L554.94 212.89L556.03 212.93L557.11 212.98L558.20 213.03L559.28 213.08L560.37 213.13L561.46 213.18L562.54 213.22L563.63 213.25L564.72 213.28L565.80 213.30L566.89 213.30L567.98 213.30L569.06 213.27L570.15 213.24L571.24 213.18L572.32 213.10L573.41 213.01L574.50 212.88L575.58 212.74L576.67 212.57L577.76 212.37L578.84 212.14L579.93 211.88L581.01 211.59L582.10 211.26L583.19 210.90L584.27 210.51L585.36 210.09L586.45 209.64L587.53 209.17L588.62 208.69L589.71 208.18L590.79 207.66L591.88 207.13L592.97 206.59L594.05 206.04L595.14 205.49L596.23 204.93L597.31 204.38L598.40 203.84L599.49 203.30L600.57 202.77L601.66 202.25L602.75 201.75L603.83 201.26L604.92 200.80L606.00 200.35L607.09 199.93L608.18 199.53L609.26 199.15L610.35 198.79L611.44 198.46L612.52 198.14L613.61 197.86L614.70 197.59L615.78 197.35L616.87 197.14L617.96 196.95L619.04 196.78L620.13 196.64L621.22 196.53L622.30 196.44L623.39 196.38L624.48 196.35L625.56 196.35L626.65 196.37L627.73 196.42L628.82 196.50L629.91 196.60L630.99 196.73L632.08 196.88L633.17 197.05L634.25 197.24L635.34 197.45L636.43 197.68L637.51 197.92L638.60 198.18L639.69 198.46L640.77 198.74L641.86 199.04L642.95 199.35L644.03 199.67L645.12 199.99L646.21 200.32L647.29 200.66L648.38 201.00L649.46 201.34L650.55 201.68L651.64 202.03L652.72 202.37L653.81 202.71L654.90 203.05L655.98 203.38L657.07 203.71L658.16 204.03L659.24 204.34L660.33 204.64L661.42 204.93L662.50 205.21L663.59 205.48L664.68 205.73L665.76 205.97L666.85 206.19L667.94 206.40L669.02 206.61L670.11 206.79L671.19 206.97L672.28 207.14L673.37 207.29L674.45 207.44L675.54 207.57L676.63 207.69L677.71 207.81L678.80 207.91L679.89 208.01L680.97 208.09L682.06 208.17L683.15 208.24L684.23 208.30L685.32 208.35L686.41 208.39L687.49 208.43L688.58 208.46L689.66 208.48L690.75 208.50L691.84 208.51L692.92 208.51L694.01 208.51L695.10 208.50L696.18 208.49L697.27 208.47L698.36 208.45L699.44 208.42L700.53 208.39L701.62 208.36L702.70 208.32L703.79 208.28L704.88 208.24L705.96 208.19L707.05 208.14L708.14 208.09L709.22 208.04L710.31 207.99L711.39 207.93L712.48 207.88L713.57 207.82L714.65 207.77L715.74 207.71L716.83 207.65L717.91 207.60L719.00 207.54L720.09 207.49L721.17 207.44L722.26 207.38L723.35 207.33L724.43 207.28L725.52 207.23L726.61 207.18L727.69 207.13L728.78 207.09L729.87 207.04L730.95 207.00L732.04 206.95L733.12 206.91L734.21 206.86L735.30 206.82L736.38 206.78L737.47 206.74L738.56 206.70L739.64 206.66L740.73 206.62L741.82 206.59L742.90 206.55L743.99 206.51L745.08 206.48L746.16 206.45L747.25 206.41L748.34 206.38L749.42 206.35L750.51 206.32L751.60 206.29L752.68 206.26L753.77 206.23L754.86 206.20L755.94 206.17L757.03 206.15L758.11 206.12L759.20 206.10L760.29 206.07L761.37 206.05L762.46 206.03L763.55 206.01L764.63 205.98L765.72 205.96L766.81 205.94L767.89 205.92L768.98 205.91L770.07 205.89L771.15 205.87L772.24 205.86L773.33 205.84L774.41 205.82L775.50 205.81L776.59 205.80L777.67 205.78L778.76 205.77L779.84 205.76L780.93 205.75L782.02 205.74L783.10 205.73L784.19 205.72L785.28 205.71L786.36 205.70L787.45 205.70L788.54 205.69L789.62 205.68L790.71 205.68L791.80 205.67L792.88 205.67L793.97 205.67L795.06 205.66L796.14 205.66L797.23 205.66L798.32 205.66L799.40 205.66L800.49 205.66L801.57 205.66L802.66 205.66L802.83 205.66"/>
<path class="c" stroke="#996633" d="M461.50 49.17L462.59 49.37L463.67 49.76L464.76 50.37L465.85 51.19L466.93 52.24L468.02 53.51L469.11 55.01L470.19 56.75L471.28 58.72L472.37 60.95L473.45 63.43L474.54 66.14L475.62 69.07L476.71 72.20L477.80 75.51L478.88 78.98L479.97 82.59L481.06 86.32L482.14 90.14L483.23 94.05L484.32 98.02L485.40 102.04L486.49 106.10L487.58 110.19L488.66 114.31L489.75 118.44L490.84 122.58L491.92 126.72L493.01 130.86L494.10 134.97L495.18 139.07L496.27 143.13L497.35 147.15L498.44 151.13L499.53 155.05L500.61 158.91L501.70 162.69L502.79 166.39L503.87 170.00L504.96 173.50L506.05 176.88L507.13 180.13L508.22 183.23L509.31 186.19L510.39 188.97L511.48 191.59L512.57 194.04L513.65 196.32L514.74 198.46L515.83 200.45L516.91 202.30L518.00 204.03L519.08 205.64L520.17 207.14L521.26 208.54L522.34 209.84L523.43 211.06L524.52 212.20L525.60 213.27L526.69 214.28L527.78 215.24L528.86 216.15L529.95 217.01L531.04 217.82L532.12 218.58L533.21 219.30L534.30 219.97L535.38 220.59L536.47 221.17L537.56 221.71L538.64 222.21L539.73 222.66L540.81 223.08L541.90 223.46L542.99 223.80L544.07 224.11L545.16 224.38L546.25 224.62L547.33 224.82L548.42 224.99L549.51 225.13L550.59 225.24L551.68 225.31L552.77 225.35L553.85 225.37L554.94 225.35L556.03 225.30L557.11 225.23L558.20 225.12L559.28 224.99L560.37 224.83L561.46 224.65L562.54 224.43L563.63 224.19L564.72 223.93L565.80 223.64L566.89 223.32L567.98 222.99L569.06 222.62L570.15 222.24L571.24 221.83L572.32 221.40L573.41 220.95L574.50 220.48L575.58 219.99L576.67 219.47L577.76 218.94L578.84 218.39L579.93 217.82L581.01 217.23L582.10 216.63L583.19 216.01L584.27 215.37L585.36 214.71L586.45 214.04L587.53 213.37L588.62 212.68L589.71 211.98L590.79 211.28L591.88 210.58L592.97 209.88L594.05 209.17L595.14 208.48L596.23 207.78L597.31 207.10L598.40 206.43L599.49 205.77L600.57 205.12L601.66 204.49L602.75 203.88L603.83 203.29L604.92 202.72L606.00 202.18L607.09 201.66L608.18 201.17L609.26 200.70L610.35 200.27L611.44 199.86L612.52 199.48L613.61 199.13L614.70 198.81L615.78 198.52L616.87 198.27L617.96 198.05L619.04 197.86L620.13 197.71L621.22 197.60L622.30 197.53L623.39 197.49L624.48 197.49L625.56 197.54L626.65 197.62L627.73 197.73L628.82 197.88L629.91 198.07L630.99 198.28L632.08 198.53L633.17 198.80L634.25 199.10L635.34 199.42L636.43 199.77L637.51 200.13L638.60 200.52L639.69 200.93L640.77 201.35L641.86 201.78L642.95 202.23L644.03 202.69L645.12 203.16L646.21 203.63L647.29 204.12L648.38 204.61L649.46 205.10L650.55 205.59L651.64 206.08L652.72 206.57L653.81 207.05L654.90 207.53L655.98 208.00L657.07 208.47L658.16 208.92L659.24 209.36L660.33 209.79L661.42 210.20L662.50 210.59L663.59 210.97L664.68 211.32L665.76 211.66L666.85 211.98L667.94 212.29L669.02 212.57L670.11 212.84L671.19 213.10L672.28 213.33L673.37 213.56L674.45 213.76L675.54 213.95L676.63 214.13L677.71 214.30L678.80 214.45L679.89 214.58L680.97 214.71L682.06 214.82L683.15 214.92L684.23 215.01L685.32 215.09L686.41 215.15L687.49 215.21L688.58 215.25L689.66 215.29L690.75 215.32L691.84 215.34L692.92 215.35L694.01 215.35L695.10 215.34L696.18 215.33L697.27 215.31L698.36 215.28L699.44 215.25L700.53 215.21L701.62 215.17L702.70 215.12L703.79 215.07L704.88 215.01L705.96 214.95L707.05 214.89L708.14 214.82L709.22 214.75L710.31 214.68L711.39 214.61L712.48 214.53L713.57 214.46L714.65 214.38L715.74 214.30L716.83 214.23L717.91 214.15L719.00 214.08L720.09 214.00L721.17 213.93L722.26 213.86L723.35 213.79L724.43 213.72L725.52 213.65L726.61 213.59L727.69 213.52L728.78 213.46L729.87 213.39L730.95 213.33L732.04 213.27L733.12 213.21L734.21 213.15L735.30 213.09L736.38 213.03L737.47 212.98L738.56 212.92L739.64 212.87L740.73 212.82L741.82 212.77L742.90 212.72L743.99 212.67L745.08 212.62L746.16 212.57L747.25 212.53L748.34 212.48L749.42 212.44L750.51 212.39L751.60 212.35L752.68 212.31L753.77 212.27L754.86 212.23L755.94 212.20L757.03 212.16L758.11 212.13L759.20 212.09L760.29 212.06L761.37 212.03L762.46 212.00L763.55 211.97L764.63 211.94L765.72 211.91L766.81 211.88L767.89 211.86L768.98 211.83L770.07 211.81L771.15 211.79L772.24 211.77L773.33 211.75L774.41 211.73L775.50 211.71L776.59 211.69L777.67 211.68L778.76 211.66L779.84 211.65L780.93 211.64L782.02 211.63L783.10 211.62L784.19 211.61L785.28 211.60L786.36 211.59L787.45 211.59L788.54 211.58L789.62 211.58L790.71 211.57L791.80 211.57L792.88 211.57L793.97 211.57L795.06 211.57L796.14 211.57L797.23 211.58L798.32 211.58L799.40 211.59L800.49 211.59L801.57 211.60L802.66 211.61L802.83 211.61"/>
</g>
<rect x="454.50" y="38.45" width="355.50" height="218.95" fill="none" stroke="#7f7f7f" stroke-width="0.9"/>
<path d="M461.50 257.40v-4.00M461.50 38.45v4.00M472.50 257.40v-2.30M472.50 38.45v2.30M483.50 257.40v-2.30M483.50 38.45v2.30M494.50 257.40v-2.30M494.50 38.45v2.30M504.50 257.40v-2.30M504.50 38.45v2.30M515.50 257.40v-4.00M515.50 38.45v4.00M526.50 257.40v-2.30M526.50 38.45v2.30M537.50 257.40v-2.30M537.50 38.45v2.30M548.50 257.40v-2.30M548.50 38.45v2.30M559.50 257.40v-2.30M559.50 38.45v2.30M570.50 257.40v-4.00M570.50 38.45v4.00M581.50 257.40v-2.30M581.50 38.45v2.30M591.50 257.40v-2.30M591.50 38.45v2.30M602.50 257.40v-2.30M602.50 38.45v2.30M613.50 257.40v-2.30M613.50 38.45v2.30M624.50 257.40v-4.00M624.50 38.45v4.00M635.50 257.40v-2.30M635.50 38.45v2.30M646.50 257.40v-2.30M646.50 38.45v2.30M657.50 257.40v-2.30M657.50 38.45v2.30M667.50 257.40v-2.30M667.50 38.45v2.30M678.50 257.40v-4.00M678.50 38.45v4.00M689.50 257.40v-2.30M689.50 38.45v2.30M700.50 257.40v-2.30M700.50 38.45v2.30M711.50 257.40v-2.30M711.50 38.45v2.30M722.50 257.40v-2.30M722.50 38.45v2.30M733.50 257.40v-4.00M733.50 38.45v4.00M743.50 257.40v-2.30M743.50 38.45v2.30M754.50 257.40v-2.30M754.50 38.45v2.30M765.50 257.40v-2.30M765.50 38.45v2.30M776.50 257.40v-2.30M776.50 38.45v2.30M787.50 257.40v-4.00M787.50 38.45v4.00M798.50 257.40v-2.30M798.50 38.45v2.30M809.50 257.40v-2.30M809.50 38.45v2.30M454.50 253.50h4.00M810.00 253.50h-4.00M454.50 240.50h2.30M810.00 240.50h-2.30M454.50 228.50h2.30M810.00 228.50h-2.30M454.50 216.50h2.30M810.00 216.50h-2.30M454.50 203.50h2.30M810.00 203.50h-2.30M454.50 191.50h4.00M810.00 191.50h-4.00M454.50 178.50h2.30M810.00 178.50h-2.30M454.50 166.50h2.30M810.00 166.50h-2.30M454.50 154.50h2.30M810.00 154.50h-2.30M454.50 141.50h2.30M810.00 141.50h-2.30M454.50 129.50h4.00M810.00 129.50h-4.00M454.50 116.50h2.30M810.00 116.50h-2.30M454.50 104.50h2.30M810.00 104.50h-2.30M454.50 92.50h2.30M810.00 92.50h-2.30M454.50 79.50h2.30M810.00 79.50h-2.30M454.50 67.50h4.00M810.00 67.50h-4.00M454.50 54.50h2.30M810.00 54.50h-2.30M454.50 42.50h2.30M810.00 42.50h-2.30" fill="none" stroke="#7a7a7a" stroke-width="1.0"/>
<text class="tk" text-anchor="middle" transform="translate(461.50 278.00)  scale(1.044 1)"><tspan>0.0</tspan></text>
<text class="tk" text-anchor="middle" transform="translate(515.83 278.00)  scale(1.044 1)"><tspan>0.5</tspan></text>
<text class="tk" text-anchor="middle" transform="translate(570.15 278.00)  scale(1.044 1)"><tspan>1.0</tspan></text>
<text class="tk" text-anchor="middle" transform="translate(624.48 278.00)  scale(1.044 1)"><tspan>1.5</tspan></text>
<text class="tk" text-anchor="middle" transform="translate(678.80 278.00)  scale(1.044 1)"><tspan>2.0</tspan></text>
<text class="tk" text-anchor="middle" transform="translate(733.12 278.00)  scale(1.044 1)"><tspan>2.5</tspan></text>
<text class="tk" text-anchor="middle" transform="translate(787.45 278.00)  scale(1.044 1)"><tspan>3.0</tspan></text>
<text class="tk" text-anchor="end" transform="translate(451.20 260.10)  scale(1.044 1)"><tspan>0</tspan></text>
<text class="tk" text-anchor="end" transform="translate(451.20 198.10)  scale(1.044 1)"><tspan>5</tspan></text>
<text class="tk" text-anchor="end" transform="translate(451.20 136.10)  scale(1.044 1)"><tspan>10</tspan></text>
<text class="tk" text-anchor="end" transform="translate(451.20 74.10)  scale(1.044 1)"><tspan>15</tspan></text>
<text class="lb" text-anchor="start" transform="translate(621.75 304.50)  scale(1.044 1)"><tspan class="i">θ</tspan><tspan class="xsub" dy="3.30"><tspan dx="-0.9">AB</tspan></tspan></text>
<text class="lb" text-anchor="start" transform="translate(203.60 27.60)  scale(1.044 1)"><tspan class="i">c</tspan><tspan class="sub i" dy="3.10">s</tspan><tspan dy="-1.60">=</tspan><tspan dy="-1.50">0.3</tspan></text>
<text class="lb" text-anchor="start" transform="translate(588.80 27.80)  scale(1.044 1)"><tspan>kL</tspan><tspan class="sub i" dy="3.10">A</tspan><tspan dy="-1.60">=</tspan><tspan dy="-1.50">kL</tspan><tspan class="sub i" dy="3.10">B</tspan><tspan dy="-1.60">=</tspan><tspan dy="-1.50">10</tspan></text>
<text class="lb" text-anchor="start" transform="translate(11.90 169.70) rotate(-90) scale(1.044 1)"><tspan>Γ</tspan><tspan class="sup" dy="-5.60"><tspan dx="-1.0">(param)</tspan></tspan></text>
<path d="M250.80 56.40H274.40" stroke="#ff0000" stroke-width="1.9" fill="none"/>
<text class="lb" text-anchor="start" transform="translate(280.60 60.95)  scale(1.044 1)"><tspan>kL</tspan><tspan class="sub i" dy="3.10">A</tspan><tspan dy="-1.60">=</tspan><tspan dy="-1.50">kL</tspan><tspan class="sub i" dy="3.10">B</tspan><tspan dy="-1.60">=</tspan><tspan dy="-1.50">10</tspan></text>
<path d="M250.80 80.70H274.40" stroke="#0000ff" stroke-width="1.9" fill="none"/>
<text class="lb" text-anchor="start" transform="translate(280.60 85.25)  scale(1.044 1)"><tspan>kL</tspan><tspan class="sub i" dy="3.10">A</tspan><tspan dy="-1.60">=</tspan><tspan dy="-1.50">10, </tspan><tspan>kL</tspan><tspan class="sub i" dy="3.10">B</tspan><tspan dy="-1.60">=</tspan><tspan dy="-1.50">20</tspan></text>
<path d="M250.80 105.10H274.40" stroke="#ff8000" stroke-width="1.9" fill="none"/>
<text class="lb" text-anchor="start" transform="translate(280.60 109.65)  scale(1.044 1)"><tspan>kL</tspan><tspan class="sub i" dy="3.10">A</tspan><tspan dy="-1.60">=</tspan><tspan dy="-1.50">kL</tspan><tspan class="sub i" dy="3.10">B</tspan><tspan dy="-1.60">=</tspan><tspan dy="-1.50">20</tspan></text>
<path d="M709.60 55.50H733.60" stroke="#ff0000" stroke-width="1.9" fill="none"/>
<text class="lb" text-anchor="start" transform="translate(740.30 60.05)  scale(1.044 1)"><tspan class="i">c</tspan><tspan class="sub i" dy="3.10">s</tspan><tspan dy="-1.60">=</tspan><tspan dy="-1.50">0.001</tspan></text>
<path d="M709.60 79.70H733.60" stroke="#0000ff" stroke-width="1.9" fill="none"/>
<text class="lb" text-anchor="start" transform="translate(740.30 84.25)  scale(1.044 1)"><tspan class="i">c</tspan><tspan class="sub i" dy="3.10">s</tspan><tspan dy="-1.60">=</tspan><tspan dy="-1.50">0.1</tspan></text>
<path d="M709.60 104.00H733.60" stroke="#ff8000" stroke-width="1.9" fill="none"/>
<text class="lb" text-anchor="start" transform="translate(740.30 108.55)  scale(1.044 1)"><tspan class="i">c</tspan><tspan class="sub i" dy="3.10">s</tspan><tspan dy="-1.60">=</tspan><tspan dy="-1.50">0.2</tspan></text>
<path d="M709.60 128.40H733.60" stroke="#996633" stroke-width="1.9" fill="none"/>
<text class="lb" text-anchor="start" transform="translate(740.30 132.95)  scale(1.044 1)"><tspan class="i">c</tspan><tspan class="sub i" dy="3.10">s</tspan><tspan dy="-1.60">=</tspan><tspan dy="-1.50">0.3</tspan></text>
</svg></body></html>
